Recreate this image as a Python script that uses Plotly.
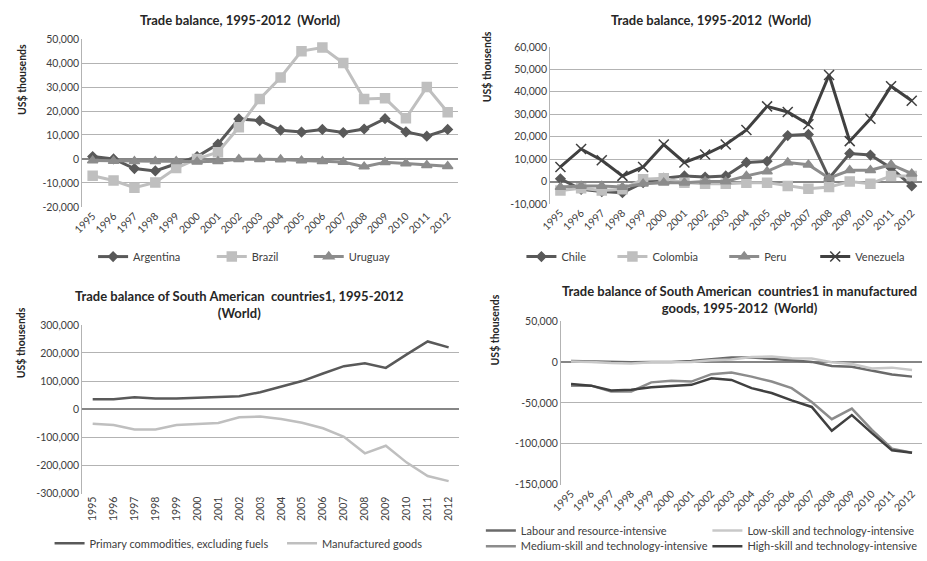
import plotly.graph_objects as go

YEARS = [str(y) for y in range(1995, 2013)]

# panel 1
ARGENTINA = [1000, 0, -4000, -5000, -2000, 1000, 6200, 16700, 16000, 12000,
             11200, 12300, 11000, 12500, 16800, 11300, 9500, 12300]
BRAZIL = [-7000, -9000, -12000, -9800, -3800, 0, 2800, 13200, 25000, 34000,
          45000, 46500, 40000, 25000, 25300, 17000, 30000, 19500]
URUGUAY = [-700, -900, -1000, -1000, -1000, -1200, -1000, -100, -100, -200,
           -700, -1000, -1300, -3200, -1400, -1900, -2600, -3000]

# panel 2
CHILE = [1200, -3500, -4500, -5000, -500, 1500, 2500, 2000, 2500, 8500,
         9000, 20500, 21000, 1500, 12500, 11800, 6000, -2000]
COLOMBIA = [-4000, -3000, -4000, -3500, 1000, 1500, -500, -1000, -1000, -500,
            -500, -2000, -3200, -2500, 0, -1000, 2500, 2500]
PERU = [-2500, -2000, -2000, -2500, -1000, -500, -500, 0, 0, 2500,
        4500, 8500, 7500, 1500, 5000, 5000, 7500, 3500]
VENEZUELA = [6500, 14500, 9500, 2500, 6500, 16500, 8500, 12000, 16500, 23000,
             33500, 31000, 25500, 47500, 18000, 28000, 42500, 36000]

# panel 3
PRIMARY = [35000, 35000, 42000, 38000, 38000, 41000, 42000, 46000, 60000, 80000,
           100000, 127000, 153000, 163000, 147000, 195000, 241000, 220000]
MANUFACTURED = [-52000, -56000, -72000, -72000, -56000, -53000, -49000, -29000, -26000, -35000,
                -48000, -68000, -98000, -157000, -130000, -190000, -238000, -256000]

# panel 4
LABOUR = [1000, 500, -500, -500, 0, 0, 1000, 3500, 5500, 5500,
          4000, 2000, 0, -5000, -6000, -11000, -15500, -18000]
LOW_SKILL = [500, 0, -1500, -2000, -500, 0, 0, 2000, 3000, 6000,
             6500, 4500, 4000, -500, -2500, -8000, -7000, -10000]
MEDIUM_SKILL = [-29000, -29000, -36000, -36000, -25000, -23000, -24000, -15000, -13000, -18000,
                -24000, -32000, -49000, -70000, -57000, -83000, -106000, -111000]
HIGH_SKILL = [-27000, -29000, -35000, -34000, -31000, -29500, -28000, -20000, -22000, -32000,
              -38000, -47000, -55000, -84000, -65000, -87000, -108000, -111000]

Y1_TICKS = [-20000, -10000, 0, 10000, 20000, 30000, 40000, 50000]
Y1_TEXT = ["-20,000", "-10,000", "0", "10,000", "20,000", "30,000", "40,000", "50,000"]
Y2_TICKS = [-10000, 0, 10000, 20000, 30000, 40000, 50000, 60000]
Y2_TEXT = ["-10,000", "0", "10,000", "20,000", "30,000", "40,000", "50,000", "60,000"]
Y3_TICKS = [-300000, -200000, -100000, 0, 100000, 200000, 300000]
Y3_TEXT = ["-300,000", "-200,000", "-100,000", "0", "100,000", "200,000", "300,000"]
Y4_TICKS = [-150000, -100000, -50000, 0, 50000]
Y4_TEXT = ["-150,000", "-100,000", "-50,000", "0", "50,000"]

FONT = "Lato"
TXT = "#404040"
GRIDC = "#b3b3b3"
DARK = "#595959"
DARKER = "#404040"
MID = "#8c8c8c"
LIGHT = "#bfbfbf"

W, H = 927, 561


def px_x(v):
    return v / W


def px_y(v):
    return 1 - v / H


fig = go.Figure()
legend_specs = []   # (legend id, left px, centre y px)


def add_line(name, y, color, n, lx, ly, symbol=None, width=3, msize=8):
    xa = "x" if n == 1 else f"x{n}"
    ya = "y" if n == 1 else f"y{n}"
    k = len(legend_specs) + 1
    leg = "legend" if k == 1 else f"legend{k}"
    legend_specs.append((leg, lx, ly))
    mode = "lines+markers" if symbol else "lines"
    marker = dict(symbol=symbol, size=msize, color=color,
                  line=dict(color=color, width=1.5)) if symbol else None
    fig.add_trace(go.Scatter(x=YEARS, y=y, name=name, mode=mode,
                             line=dict(color=color, width=width),
                             marker=marker, xaxis=xa, yaxis=ya, legend=leg))


add_line("Argentina", ARGENTINA, DARK, 1, 84, 257, "diamond", msize=7)
add_line("Brazil", BRAZIL, LIGHT, 1, 204, 257, "square", msize=9)
add_line("Uruguay", URUGUAY, MID, 1, 302, 257, "triangle-up", msize=9)

add_line("Chile", CHILE, DARK, 2, 517, 257, "diamond", msize=7)
add_line("Colombia", COLOMBIA, LIGHT, 2, 609, 257, "square", msize=9)
add_line("Peru", PERU, MID, 2, 722, 257, "triangle-up", msize=9)
add_line("Venezuela", VENEZUELA, DARKER, 2, 814, 257, "x-thin-open", msize=10)

add_line("Primary commodities, excluding fuels", PRIMARY, DARK, 3, 40, 551, width=2.5)
add_line("Manufactured goods", MANUFACTURED, LIGHT, 3, 275, 551, width=2.5)

add_line("Labour and resource-intensive", LABOUR, "#6a6a6a", 4, 476, 538, width=2.5)
add_line("Low-skill and technology-intensive", LOW_SKILL, "#c8c8c8", 4, 705, 538, width=2.5)
add_line("Medium-skill and technology-intensive", MEDIUM_SKILL, MID, 4, 476, 554, width=2.5)
add_line("High-skill and technology-intensive", HIGH_SKILL, DARKER, 4, 705, 554, width=2.5)

TICKF = dict(family=FONT, size=10.5, color=TXT)

panels = {
    1: dict(x=(73, 453), y=(34, 206), ticks=(Y1_TICKS, Y1_TEXT), angle=-45),
    2: dict(x=(546, 922), y=(42, 203), ticks=(Y2_TICKS, Y2_TEXT), angle=-45),
    3: dict(x=(73, 454), y=(327, 500), ticks=(Y3_TICKS, Y3_TEXT), angle=-90),
    4: dict(x=(557, 922), y=(323, 491), ticks=(Y4_TICKS, Y4_TEXT), angle=-45),
}

for n, p in panels.items():
    sfx = "" if n == 1 else str(n)
    fig.layout[f"xaxis{sfx}"] = dict(
        domain=[px_x(p["x"][0]), px_x(p["x"][1])], anchor=f"y{sfx}",
        type="category", range=[-0.5, 17.5], tickangle=p["angle"],
        tickfont=TICKF, showgrid=False, showline=False, ticks="", fixedrange=True)
    fig.layout[f"yaxis{sfx}"] = dict(
        domain=[px_y(p["y"][1]), px_y(p["y"][0])], anchor=f"x{sfx}",
        range=[p["ticks"][0][0], p["ticks"][0][-1]],
        tickvals=p["ticks"][0], ticktext=p["ticks"][1], tickfont=TICKF,
        showgrid=True, gridcolor=GRIDC, gridwidth=1,
        zeroline=True, zerolinecolor="#868686", zerolinewidth=1.5,
        showline=True, linecolor=GRIDC, linewidth=1, ticks="", fixedrange=True)

titles = [
    ("<b>Trade balance, 1995-2012  (World)</b>", 233, 14),
    ("<b>Trade balance, 1995-2012  (World)</b>", 709, 14),
    ("<b>Trade balance of South American  countries1, 1995-2012<br>(World)</b>", 232, 306),
    ("<b>Trade balance of South American  countries1 in manufactured<br>goods, 1995-2012  (World)</b>", 737, 301),
]
annotations = []
for text, x, y in titles:
    annotations.append(dict(text=text, x=px_x(x), y=px_y(y), xref="paper", yref="paper",
                            showarrow=False, xanchor="center", yanchor="middle",
                            font=dict(family=FONT, size=13, color="#262626")))

ylabels = [(12, 75), (483, 62), (12, 345), (490, 332)]
for x, y in ylabels:
    annotations.append(dict(text="<b>US$ thousends</b>", x=px_x(x), y=px_y(y),
                            xref="paper", yref="paper", showarrow=False, textangle=-90,
                            xanchor="center", yanchor="middle",
                            font=dict(family=FONT, size=10.5, color="#262626")))

fig.update_layout(
    width=W, height=H, margin=dict(l=0, r=0, t=0, b=0),
    paper_bgcolor="white", plot_bgcolor="white",
    annotations=annotations, showlegend=True,
)
for leg, lx, ly in legend_specs:
    fig.layout[leg] = dict(orientation="h", x=px_x(lx), y=px_y(ly),
                           xanchor="left", yanchor="middle", itemwidth=30,
                           font=dict(family=FONT, size=11, color=TXT),
                           bgcolor="rgba(0,0,0,0)")

fig.write_html("out.html", config={"displayModeBar": False},
               post_script="document.body.style.margin='0';")
